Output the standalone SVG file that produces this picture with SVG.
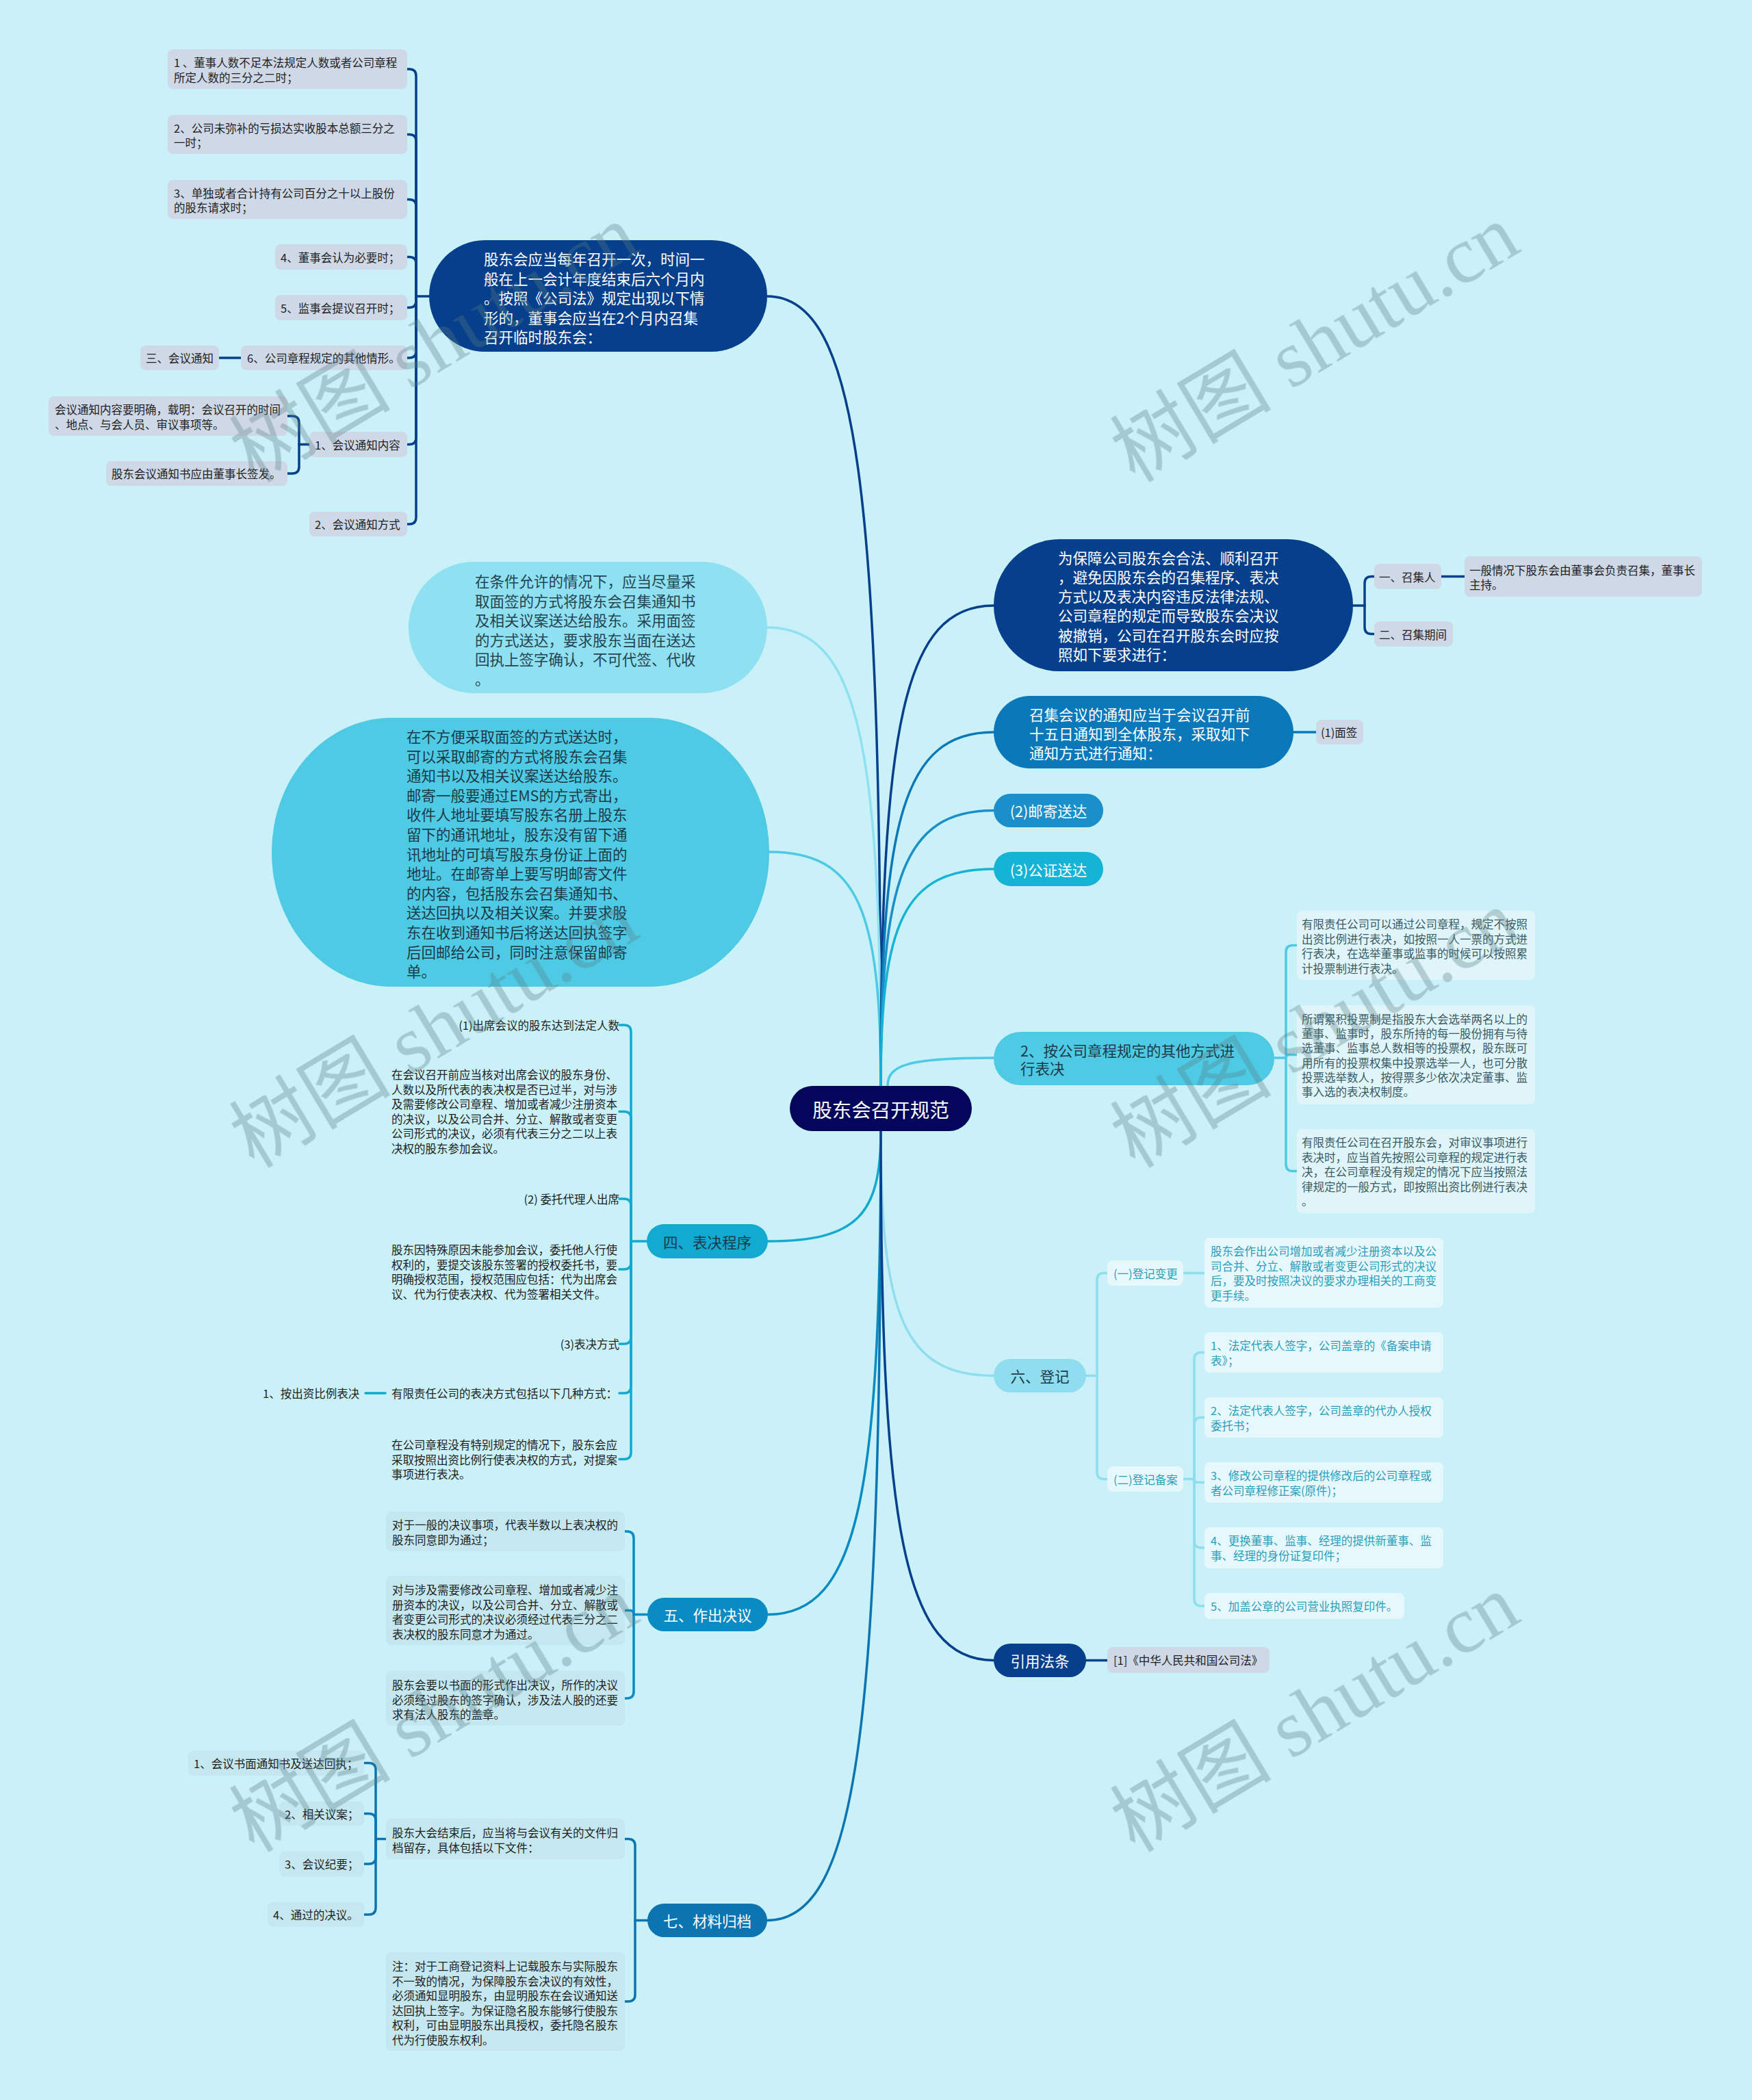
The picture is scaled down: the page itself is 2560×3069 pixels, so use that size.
<svg xmlns="http://www.w3.org/2000/svg" width="2560" height="3069" viewBox="0 0 2560 3069">
<style>
text{font-family:"Noto Sans CJK SC","Noto Sans",sans-serif;dominant-baseline:central}
.s{font-size:16.5px}
.m{font-size:21.5px}
.w{fill:#ffffff}
.d{fill:#1d3b48}
.k{fill:#222222}
.e{fill:#3a5a63}
.r{fill:#2a9ebb}
.g{fill:#ced8e7}
.lf{fill:#dff5fa}
.rg{fill:#e6f8fc}
.sb{fill:#c4e7f0}
.c path{fill:none;stroke-width:3.5;stroke-linecap:round}
.wm{font-family:"Liberation Serif","Noto Sans CJK SC",serif;font-size:118px;fill:#5a7d84;dominant-baseline:auto}
</style>
<rect width="2560" height="3069" fill="#caf0f8"/>

<g id="connectors" class="c">
  <path d="M1287 1587 C1287 721.5 1254 433 1121 433" stroke="#063f8b"/>
  <path d="M1287 1587 C1287 1084.5 1254 917 1121 917" stroke="#8fe0f0"/>
  <path d="M1287 1587 C1287 1330.5 1254 1245 1124 1245" stroke="#4ecae4"/>
  <path d="M1287 1587 C1287 1060.5 1320 885 1452 885" stroke="#063f8b"/>
  <path d="M1287 1587 C1287 1199 1320 1070 1452 1070" stroke="#0a78b9"/>
  <path d="M1287 1587 C1287 1285 1320 1184.5 1452 1184.5" stroke="#1a8fc9"/>
  <path d="M1287 1587 C1287 1349 1320 1270 1452 1270" stroke="#15b3d5"/>
  <path d="M1297 1587 C1297 1556 1328 1546 1452 1546" stroke="#4ecae4"/>
  <path d="M1287 1653 C1287 1774 1254 1814 1122 1814" stroke="#12aad1"/>
  <path d="M1287 1653 C1287 2183 1254 2359.5 1122 2359.5" stroke="#0b8bc3"/>
  <path d="M1287 1653 C1287 2518 1254 2806.5 1121 2806.5" stroke="#0b74b1"/>
  <path d="M1287 1653 C1287 1921 1320 2010.5 1452 2010.5" stroke="#8fddee"/>
  <path d="M1287 1653 C1287 2233 1320 2426.5 1452 2426.5" stroke="#063f8b"/>

  <g stroke="#063f8b">
    <path d="M1977 885 H1994"/>
    <path d="M1994 885 V852.5 Q1994 842.5 2004 842.5 H2008"/>
    <path d="M1994 885 V916.5 Q1994 926.5 2004 926.5 H2008"/>
    <path d="M2106 842.5 H2140"/>
    <path d="M1587 2426.5 H1618"/>
  </g>
  <path d="M1890 1070 H1923" stroke="#0a78b9"/>
  <g stroke="#4ecae4">
    <path d="M1862 1546 H1879"/>
    <path d="M1879 1546 V1391.5 Q1879 1381.5 1889 1381.5 H1895"/>
    <path d="M1879 1546 Q1879 1541.5 1884 1541.5 H1895"/>
    <path d="M1879 1546 V1701.5 Q1879 1711.5 1889 1711.5 H1895"/>
  </g>
  <g stroke="#8fddee">
    <path d="M1587 2010.5 H1603"/>
    <path d="M1603 2010.5 V1870.5 Q1603 1860.5 1613 1860.5 H1618"/>
    <path d="M1603 2010.5 V2151.5 Q1603 2161.5 1613 2161.5 H1618"/>
    <path d="M1729 1860.5 H1760"/>
    <path d="M1729 2161.5 H1745"/>
    <path d="M1745 2161.5 V1986.5 Q1745 1976.5 1755 1976.5 H1760"/>
    <path d="M1745 2161.5 V2081.5 Q1745 2071.5 1755 2071.5 H1760"/>
    <path d="M1745 2161.5 Q1745 2166.5 1750 2166.5 H1760"/>
    <path d="M1745 2161.5 V2252 Q1745 2262 1755 2262 H1760"/>
    <path d="M1745 2161.5 V2337 Q1745 2347 1755 2347 H1760"/>
  </g>
  <g stroke="#063f8b">
    <path d="M627 433 H608"/>
    <path d="M608 433 V111 Q608 101 598 101 H595"/>
    <path d="M608 433 V206.5 Q608 196.5 598 196.5 H595"/>
    <path d="M608 433 V301.5 Q608 291.5 598 291.5 H595"/>
    <path d="M608 433 V385.5 Q608 375.5 598 375.5 H595"/>
    <path d="M608 433 V439.5 Q608 449.5 598 449.5 H595"/>
    <path d="M608 433 V513 Q608 523 598 523 H595"/>
    <path d="M608 433 V639.5 Q608 649.5 598 649.5 H595"/>
    <path d="M608 433 V756 Q608 766 598 766 H595"/>
    <path d="M352 523 H320"/>
    <path d="M452 649.5 H437"/>
    <path d="M437 649.5 V618 Q437 608 427 608 H420"/>
    <path d="M437 649.5 V682 Q437 692 427 692 H420"/>
  </g>
  <g stroke="#12aad1">
    <path d="M945 1814 H922"/>
    <path d="M922 1814 V1508 Q922 1498 912 1498 H905"/>
    <path d="M922 1814 V1634.5 Q922 1624.5 912 1624.5 H905"/>
    <path d="M922 1814 V1762 Q922 1752 912 1752 H905"/>
    <path d="M922 1814 V1845 Q922 1855 912 1855 H905"/>
    <path d="M922 1814 V1954 Q922 1964 912 1964 H905"/>
    <path d="M922 1814 V2026 Q922 2036 912 2036 H905"/>
    <path d="M922 1814 V2122.5 Q922 2132.5 912 2132.5 H905"/>
    <path d="M563 2036 H534"/>
  </g>
  <g stroke="#0b8bc3">
    <path d="M946 2359.5 H926"/>
    <path d="M926 2359.5 V2248 Q926 2238 916 2238 H913"/>
    <path d="M926 2359.5 Q926 2353.5 920 2353.5 H913"/>
    <path d="M926 2359.5 V2472 Q926 2482 916 2482 H913"/>
  </g>
  <g stroke="#0b74b1">
    <path d="M946 2806.5 H928"/>
    <path d="M928 2806.5 V2697.5 Q928 2687.5 918 2687.5 H913"/>
    <path d="M928 2806.5 V2915 Q928 2925 918 2925 H913"/>
    <path d="M564 2687.5 H549"/>
    <path d="M549 2687.5 V2586.5 Q549 2576.5 539 2576.5 H532"/>
    <path d="M549 2687.5 V2660.5 Q549 2650.5 539 2650.5 H532"/>
    <path d="M549 2687.5 V2714 Q549 2724 539 2724 H532"/>
    <path d="M549 2687.5 V2788 Q549 2798 539 2798 H532"/>
  </g>
</g>

<g id="root">
  <rect x="1154" y="1587" width="266" height="66" rx="33" fill="#03065a"/>
  <text x="1287" y="1620" text-anchor="middle" class="w" font-size="28.5">股东会召开规范</text>
</g>

<g id="n-h">
  <rect x="627" y="351" width="494" height="163" rx="81.5" fill="#063f8b"/>
  <text class="m w"><tspan x="707" y="377">股东会应当每年召开一次，时间一</tspan><tspan x="707" y="405.5">般在上一会计年度结束后六个月内</tspan><tspan x="707" y="434">。按照《公司法》规定出现以下情</tspan><tspan x="707" y="462.5">形的，董事会应当在2个月内召集</tspan><tspan x="707" y="491">召开临时股东会：</tspan></text>
</g>
<g id="h1"><rect x="245" y="72" width="350" height="58" rx="8" class="g"/><text class="s k"><tspan x="254" y="91">1 、董事人数不足本法规定人数或者公司章程</tspan><tspan x="254" y="112.5">所定人数的三分之二时；</tspan></text></g>
<g id="h2"><rect x="245" y="168" width="350" height="57" rx="8" class="g"/><text class="s k"><tspan x="254" y="186.5">2、公司未弥补的亏损达实收股本总额三分之</tspan><tspan x="254" y="208">一时；</tspan></text></g>
<g id="h3"><rect x="245" y="263" width="350" height="57" rx="8" class="g"/><text class="s k"><tspan x="254" y="281.5">3、单独或者合计持有公司百分之十以上股份</tspan><tspan x="254" y="303">的股东请求时；</tspan></text></g>
<g id="h4"><rect x="402" y="357" width="193" height="37" rx="8" class="g"/><text x="410" y="375.5" class="s k">4、董事会认为必要时；</text></g>
<g id="h5"><rect x="402" y="431" width="193" height="37" rx="8" class="g"/><text x="410" y="449.5" class="s k">5、监事会提议召开时；</text></g>
<g id="h6"><rect x="352" y="505" width="243" height="36" rx="8" class="g"/><text x="361" y="523" class="s k">6、公司章程规定的其他情形。</text></g>
<g id="h6a"><rect x="205" y="505" width="115" height="36" rx="8" class="g"/><text x="213" y="523" class="s k">三、会议通知</text></g>
<g id="h7"><rect x="452" y="631" width="143" height="37" rx="8" class="g"/><text x="460" y="649.5" class="s k">1、会议通知内容</text></g>
<g id="h7a"><rect x="71" y="579" width="349" height="58" rx="8" class="g"/><text class="s k"><tspan x="80" y="598">会议通知内容要明确，载明：会议召开的时间</tspan><tspan x="80" y="619.5">、地点、与会人员、审议事项等。</tspan></text></g>
<g id="h7b"><rect x="155" y="674" width="265" height="36" rx="8" class="g"/><text x="163" y="692" class="s k">股东会议通知书应由董事长签发。</text></g>
<g id="h8"><rect x="452" y="748" width="143" height="36" rx="8" class="g"/><text x="460" y="766" class="s k">2、会议通知方式</text></g>

<g id="n-face">
  <rect x="597" y="821" width="524" height="192" rx="96" fill="#8fe0f0"/>
  <text class="m" fill="#244452"><tspan x="694" y="848">在条件允许的情况下，应当尽量采</tspan><tspan x="694" y="876.5">取面签的方式将股东会召集通知书</tspan><tspan x="694" y="905">及相关议案送达给股东。采用面签</tspan><tspan x="694" y="933.5">的方式送达，要求股东当面在送达</tspan><tspan x="694" y="962">回执上签字确认，不可代签、代收</tspan><tspan x="694" y="990.5">。</tspan></text>
</g>

<g id="n-mail">
  <rect x="397" y="1049" width="727" height="393" rx="175" ry="196" fill="#4ecae4"/>
  <text class="m d"><tspan x="594" y="1075">在不方便采取面签的方式送达时，</tspan><tspan x="594" y="1103.6">可以采取邮寄的方式将股东会召集</tspan><tspan x="594" y="1132.2">通知书以及相关议案送达给股东。</tspan><tspan x="594" y="1160.8">邮寄一般要通过EMS的方式寄出，</tspan><tspan x="594" y="1189.4">收件人地址要填写股东名册上股东</tspan><tspan x="594" y="1218">留下的通讯地址，股东没有留下通</tspan><tspan x="594" y="1246.6">讯地址的可填写股东身份证上面的</tspan><tspan x="594" y="1275.2">地址。在邮寄单上要写明邮寄文件</tspan><tspan x="594" y="1303.8">的内容，包括股东会召集通知书、</tspan><tspan x="594" y="1332.4">送达回执以及相关议案。并要求股</tspan><tspan x="594" y="1361">东在收到通知书后将送达回执签字</tspan><tspan x="594" y="1389.6">后回邮给公司，同时注意保留邮寄</tspan><tspan x="594" y="1418.2">单。</tspan></text>
</g>

<g id="n-4">
  <rect x="945" y="1789" width="177" height="50" rx="25" fill="#12aad1"/>
  <text x="1033.5" y="1814" text-anchor="middle" class="m d">四、表决程序</text>
</g>
<g id="n4-1"><text x="905" y="1498" text-anchor="end" class="s k">(1)出席会议的股东达到法定人数</text></g>
<g id="n4-2"><text class="s k"><tspan x="572" y="1570">在会议召开前应当核对出席会议的股东身份、</tspan><tspan x="572" y="1591.6">人数以及所代表的表决权是否已过半，对与涉</tspan><tspan x="572" y="1613.2">及需要修改公司章程、增加或者减少注册资本</tspan><tspan x="572" y="1634.8">的决议，以及公司合并、分立、解散或者变更</tspan><tspan x="572" y="1656.4">公司形式的决议，必须有代表三分之二以上表</tspan><tspan x="572" y="1678">决权的股东参加会议。</tspan></text></g>
<g id="n4-3"><text x="905" y="1752" text-anchor="end" class="s k">(2) 委托代理人出席</text></g>
<g id="n4-4"><text class="s k"><tspan x="572" y="1826">股东因特殊原因未能参加会议，委托他人行使</tspan><tspan x="572" y="1847.6">权利的，要提交该股东签署的授权委托书，要</tspan><tspan x="572" y="1869.2">明确授权范围，授权范围应包括：代为出席会</tspan><tspan x="572" y="1890.8">议、代为行使表决权、代为签署相关文件。</tspan></text></g>
<g id="n4-5"><text x="905" y="1964" text-anchor="end" class="s k">(3)表决方式</text></g>
<g id="n4-6"><text x="572" y="2036" class="s k">有限责任公司的表决方式包括以下几种方式：</text></g>
<g id="n4-6a"><text x="384" y="2036" class="s k">1、按出资比例表决</text></g>
<g id="n4-7"><text class="s k"><tspan x="572" y="2111">在公司章程没有特别规定的情况下，股东会应</tspan><tspan x="572" y="2132.6">采取按照出资比例行使表决权的方式，对提案</tspan><tspan x="572" y="2154.2">事项进行表决。</tspan></text></g>

<g id="n-5">
  <rect x="946" y="2335" width="176" height="49" rx="24.5" fill="#0b8bc3"/>
  <text x="1034" y="2359.5" text-anchor="middle" class="m w">五、作出决议</text>
</g>
<g id="n5-1"><rect x="564" y="2209" width="349" height="58" rx="8" class="sb"/><text class="s k"><tspan x="573" y="2228">对于一般的决议事项，代表半数以上表决权的</tspan><tspan x="573" y="2249.6">股东同意即为通过；</tspan></text></g>
<g id="n5-2"><rect x="564" y="2303" width="349" height="101" rx="8" class="sb"/><text class="s k"><tspan x="573" y="2323">对与涉及需要修改公司章程、增加或者减少注</tspan><tspan x="573" y="2344.6">册资本的决议，以及公司合并、分立、解散或</tspan><tspan x="573" y="2366.2">者变更公司形式的决议必须经过代表三分之二</tspan><tspan x="573" y="2387.8">表决权的股东同意才为通过。</tspan></text></g>
<g id="n5-3"><rect x="564" y="2442" width="349" height="80" rx="8" class="sb"/><text class="s k"><tspan x="573" y="2462">股东会要以书面的形式作出决议，所作的决议</tspan><tspan x="573" y="2483.6">必须经过股东的签字确认，涉及法人股的还要</tspan><tspan x="573" y="2505.2">求有法人股东的盖章。</tspan></text></g>

<g id="n-7">
  <rect x="946" y="2782" width="175" height="49" rx="24.5" fill="#0b74b1"/>
  <text x="1033.5" y="2806.5" text-anchor="middle" class="m w">七、材料归档</text>
</g>
<g id="n7-1"><rect x="564" y="2658" width="349" height="59" rx="8" class="sb"/><text class="s k"><tspan x="573" y="2678">股东大会结束后，应当将与会议有关的文件归</tspan><tspan x="573" y="2699.6">档留存，具体包括以下文件：</tspan></text></g>
<g id="n7-2"><rect x="564" y="2853" width="349" height="144" rx="8" class="sb"/><text class="s k"><tspan x="573" y="2873">注：对于工商登记资料上记载股东与实际股东</tspan><tspan x="573" y="2894.6">不一致的情况，为保障股东会决议的有效性，</tspan><tspan x="573" y="2916.2">必须通知显明股东，由显明股东在会议通知送</tspan><tspan x="573" y="2937.8">达回执上签字。为保证隐名股东能够行使股东</tspan><tspan x="573" y="2959.4">权利，可由显明股东出具授权，委托隐名股东</tspan><tspan x="573" y="2981">代为行使股东权利。</tspan></text></g>
<g id="n7-1a"><rect x="275" y="2558" width="257" height="37" rx="8" class="sb"/><text x="283" y="2576.5" class="s k">1、会议书面通知书及送达回执；</text></g>
<g id="n7-1b"><rect x="408" y="2633" width="124" height="35" rx="8" class="sb"/><text x="416" y="2650.5" class="s k">2、相关议案；</text></g>
<g id="n7-1c"><rect x="408" y="2706" width="124" height="36" rx="8" class="sb"/><text x="416" y="2724" class="s k">3、会议纪要；</text></g>
<g id="n7-1d"><rect x="391" y="2780" width="141" height="36" rx="8" class="sb"/><text x="399" y="2798" class="s k">4、通过的决议。</text></g>

<g id="n-a">
  <rect x="1452" y="788" width="525" height="193" rx="96.5" fill="#063f8b"/>
  <text class="m w"><tspan x="1546" y="813.5">为保障公司股东会合法、顺利召开</tspan><tspan x="1546" y="841.8">，避免因股东会的召集程序、表决</tspan><tspan x="1546" y="870.1">方式以及表决内容违反法律法规、</tspan><tspan x="1546" y="898.4">公司章程的规定而导致股东会决议</tspan><tspan x="1546" y="926.7">被撤销，公司在召开股东会时应按</tspan><tspan x="1546" y="955">照如下要求进行：</tspan></text>
</g>
<g id="a1"><rect x="2008" y="824" width="98" height="37" rx="8" class="g"/><text x="2015" y="842.5" class="s k">一、召集人</text></g>
<g id="a1a"><rect x="2140" y="813" width="347" height="59" rx="8" class="g"/><text class="s k"><tspan x="2147" y="832.5">一般情况下股东会由董事会负责召集，董事长</tspan><tspan x="2147" y="854">主持。</tspan></text></g>
<g id="a2"><rect x="2008" y="908" width="115" height="37" rx="8" class="g"/><text x="2015" y="926.5" class="s k">二、召集期间</text></g>

<g id="n-b">
  <rect x="1452" y="1017" width="438" height="106" rx="53" fill="#0a78b9"/>
  <text class="m w"><tspan x="1504" y="1043">召集会议的通知应当于会议召开前</tspan><tspan x="1504" y="1071">十五日通知到全体股东，采取如下</tspan><tspan x="1504" y="1099">通知方式进行通知：</tspan></text>
</g>
<g id="b1"><rect x="1923" y="1052" width="69" height="36" rx="8" class="g"/><text x="1930" y="1070" class="s k">(1)面签</text></g>

<g id="n-c">
  <rect x="1452" y="1160" width="160" height="49" rx="24.5" fill="#1a8fc9"/>
  <text x="1532" y="1184.5" text-anchor="middle" class="m w">(2)邮寄送达</text>
</g>
<g id="n-d">
  <rect x="1452" y="1245" width="160" height="50" rx="25" fill="#15b3d5"/>
  <text x="1532" y="1270" text-anchor="middle" class="m w">(3)公证送达</text>
</g>

<g id="n-e">
  <rect x="1452" y="1508" width="410" height="78" rx="39" fill="#4ecae4"/>
  <text class="m d"><tspan x="1491" y="1534">2、按公司章程规定的其他方式进</tspan><tspan x="1491" y="1560">行表决</tspan></text>
</g>
<g id="e1"><rect x="1895" y="1331" width="348" height="101" rx="8" class="lf"/><text class="s e"><tspan x="1902" y="1350">有限责任公司可以通过公司章程，规定不按照</tspan><tspan x="1902" y="1371.5">出资比例进行表决，如按照一人一票的方式进</tspan><tspan x="1902" y="1393">行表决，在选举董事或监事的时候可以按照累</tspan><tspan x="1902" y="1414.5">计投票制进行表决。</tspan></text></g>
<g id="e2"><rect x="1895" y="1469" width="348" height="145" rx="8" class="lf"/><text class="s e"><tspan x="1902" y="1489">所谓累积投票制是指股东大会选举两名以上的</tspan><tspan x="1902" y="1510.2">董事、监事时，股东所持的每一股份拥有与待</tspan><tspan x="1902" y="1531.4">选董事、监事总人数相等的投票权，股东既可</tspan><tspan x="1902" y="1552.6">用所有的投票权集中投票选举一人，也可分散</tspan><tspan x="1902" y="1573.8">投票选举数人，按得票多少依次决定董事、监</tspan><tspan x="1902" y="1595">事入选的表决权制度。</tspan></text></g>
<g id="e3"><rect x="1895" y="1650" width="348" height="123" rx="8" class="lf"/><text class="s e"><tspan x="1902" y="1669">有限责任公司在召开股东会，对审议事项进行</tspan><tspan x="1902" y="1690.5">表决时，应当首先按照公司章程的规定进行表</tspan><tspan x="1902" y="1712">决，在公司章程没有规定的情况下应当按照法</tspan><tspan x="1902" y="1733.5">律规定的一般方式，即按照出资比例进行表决</tspan><tspan x="1902" y="1755">。</tspan></text></g>

<g id="n-f">
  <rect x="1452" y="1986" width="135" height="49" rx="24.5" fill="#8fddee"/>
  <text x="1519.5" y="2010.5" text-anchor="middle" class="m d">六、登记</text>
</g>
<g id="f1"><rect x="1618" y="1842" width="111" height="37" rx="8" class="rg"/><text x="1627" y="1860.5" class="s r">(一)登记变更</text></g>
<g id="f1a"><rect x="1760" y="1809" width="349" height="102" rx="8" class="rg"/><text class="s r"><tspan x="1769" y="1828">股东会作出公司增加或者减少注册资本以及公</tspan><tspan x="1769" y="1849.5">司合并、分立、解散或者变更公司形式的决议</tspan><tspan x="1769" y="1871">后，要及时按照决议的要求办理相关的工商变</tspan><tspan x="1769" y="1892.5">更手续。</tspan></text></g>
<g id="f2"><rect x="1618" y="2143" width="111" height="37" rx="8" class="rg"/><text x="1627" y="2161.5" class="s r">(二)登记备案</text></g>
<g id="f2a"><rect x="1760" y="1947" width="349" height="59" rx="8" class="rg"/><text class="s r"><tspan x="1769" y="1966">1、法定代表人签字，公司盖章的《备案申请</tspan><tspan x="1769" y="1987.5">表》；</tspan></text></g>
<g id="f2b"><rect x="1760" y="2042" width="349" height="59" rx="8" class="rg"/><text class="s r"><tspan x="1769" y="2061">2、法定代表人签字，公司盖章的代办人授权</tspan><tspan x="1769" y="2082.5">委托书；</tspan></text></g>
<g id="f2c"><rect x="1760" y="2137" width="349" height="59" rx="8" class="rg"/><text class="s r"><tspan x="1769" y="2156">3、修改公司章程的提供修改后的公司章程或</tspan><tspan x="1769" y="2177.5">者公司章程修正案(原件)；</tspan></text></g>
<g id="f2d"><rect x="1760" y="2232" width="349" height="60" rx="8" class="rg"/><text class="s r"><tspan x="1769" y="2251">4、更换董事、监事、经理的提供新董事、监</tspan><tspan x="1769" y="2272.5">事、经理的身份证复印件；</tspan></text></g>
<g id="f2e"><rect x="1760" y="2328" width="292" height="38" rx="8" class="rg"/><text x="1769" y="2347" class="s r">5、加盖公章的公司营业执照复印件。</text></g>

<g id="n-g">
  <rect x="1452" y="2402" width="135" height="49" rx="24.5" fill="#063f8b"/>
  <text x="1519.5" y="2426.5" text-anchor="middle" class="m w">引用法条</text>
</g>
<g id="g1"><rect x="1618" y="2407" width="237" height="38" rx="8" class="g"/><text x="1627" y="2426" class="s k">[1]《中华人民共和国公司法》</text></g>

<g id="watermarks" opacity="0.33">
  <text class="wm" x="641" y="540" text-anchor="middle" transform="rotate(-31 641 513)">树图 shutu.cn</text>
  <text class="wm" x="1928" y="540" text-anchor="middle" transform="rotate(-31 1928 513)">树图 shutu.cn</text>
  <text class="wm" x="641" y="1542" text-anchor="middle" transform="rotate(-31 641 1515)">树图 shutu.cn</text>
  <text class="wm" x="1928" y="1542" text-anchor="middle" transform="rotate(-31 1928 1515)">树图 shutu.cn</text>
  <text class="wm" x="641" y="2542" text-anchor="middle" transform="rotate(-31 641 2515)">树图 shutu.cn</text>
  <text class="wm" x="1928" y="2542" text-anchor="middle" transform="rotate(-31 1928 2515)">树图 shutu.cn</text>
</g>
</svg>
